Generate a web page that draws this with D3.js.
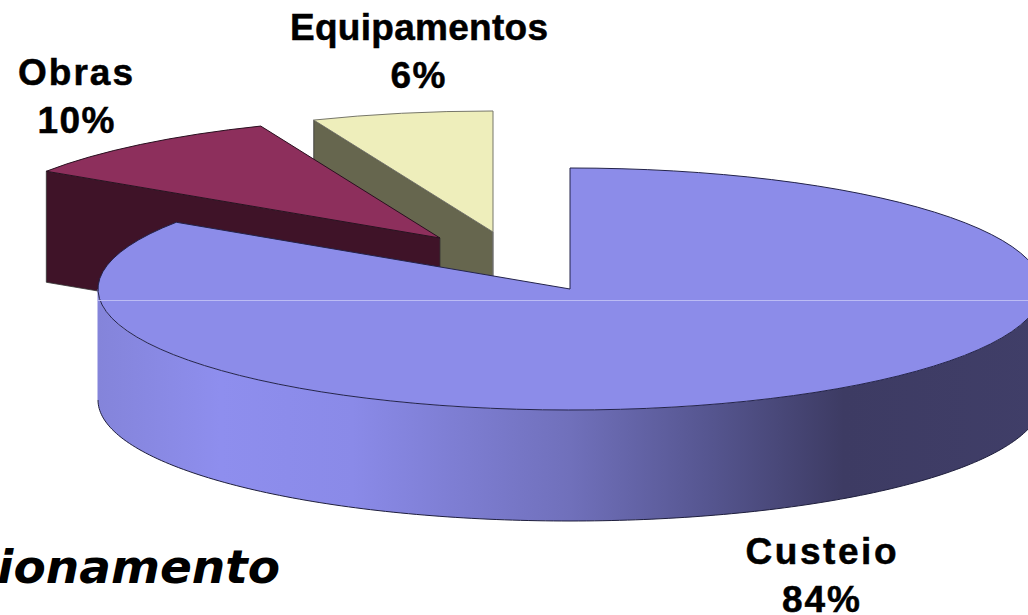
<!DOCTYPE html>
<html><head><meta charset="utf-8">
<script src="https://cdnjs.cloudflare.com/ajax/libs/d3/7.8.5/d3.min.js"></script>
<style>html,body{margin:0;padding:0;background:#fff;overflow:hidden}svg{display:block}</style>
</head><body><svg id="c" width="1028" height="615"></svg>
<script>
const categories = ["Custeio", "Obras", "Equipamentos"];
const values = [84.3, 9.5, 6.2];
const percentLabels = ["84%", "10%", "6%"];
const topColors = ["#8c8ce9", "#8d2f5c", "#eeeebb"];
const faceColors = ["#3f3d66", "#3f1328", "#66664e"];
const centers = [[570, 289], [440, 238], [493, 232]];
const sideStops = [[0, "#8484da"], [0.13, "#8e8eee"], [0.27, "#8a8ae8"], [0.5, "#7070bb"], [0.65, "#55558f"], [0.79, "#3d3b63"], [1, "#403e68"]];
const namePos = [[821, 564, 151], [75.5, 85, 115], [419, 40, 258]];
const percentPos = [[821, 612, 78], [76, 133, 77], [418, 88, 55]];

const rx = 472, ry = 121, depth = 111;
const svg = d3.select("#c");
const defs = svg.append("defs");
const grad = defs.append("linearGradient").attr("id", "side").attr("gradientUnits", "userSpaceOnUse")
  .attr("x1", centers[0][0] - rx).attr("x2", centers[0][0] + rx).attr("y1", 0).attr("y2", 0);
sideStops.forEach(s => grad.append("stop").attr("offset", s[0]).attr("stop-color", s[1]));

const arcs = d3.pie().sort(null).value(d => d)(values);
const arc = d3.arc().innerRadius(0).outerRadius(rx);
const px = (c, a) => c[0] + rx * Math.sin(a);
const py = (c, a) => c[1] - ry * Math.cos(a);
const line = d3.line();

// cut faces of the two exploded slices (back to front)
[2, 1].forEach(i => {
  const c = centers[i], a = arcs[i].startAngle;
  const pts = [[px(c, a), py(c, a)], c, [c[0], c[1] + depth], [px(c, a), py(c, a) + depth]];
  svg.append("path").attr("d", line(pts) + "Z").attr("fill", faceColors[i]).attr("stroke", "#333").attr("stroke-width", 0.8);
  if (i === 2) {
    svg.append("path").attr("d", line([c, [c[0], c[1] + depth]])).attr("stroke", "#888").attr("fill", "none");
  }
  svg.append("path").attr("transform", `translate(${c[0]},${c[1]}) scale(1,${ry / rx})`)
    .attr("d", arc(arcs[i])).attr("fill", topColors[i])
    .attr("stroke", i === 2 ? "#77776a" : "#2a1020").attr("stroke-width", 1).attr("vector-effect", "non-scaling-stroke");
});

// wall of the main slice
const c0 = centers[0];
const wall = d3.range(0, 181).map(d => Math.PI / 2 + d * Math.PI / 180);
const side = d3.area().x(a => px(c0, a)).y0(a => py(c0, a)).y1(a => py(c0, a) + depth);
svg.append("path").attr("d", side(wall)).attr("fill", "url(#side)").attr("stroke", "none");
svg.append("path").attr("d", d3.line().x(a => px(c0, a)).y(a => py(c0, a) + depth)(wall))
  .attr("fill", "none").attr("stroke", "#1e1e3c").attr("stroke-width", 1);
svg.append("path").attr("d", line([[c0[0] - rx, c0[1]], [c0[0] - rx, c0[1] + depth]])).attr("stroke", "#8484da");

// top of the main slice
svg.append("path").attr("transform", `translate(${c0[0]},${c0[1]}) scale(1,${ry / rx})`)
  .attr("d", arc(arcs[0])).attr("fill", topColors[0])
  .attr("stroke", "#23234a").attr("stroke-width", 1).attr("vector-effect", "non-scaling-stroke");

// light seam across the top
svg.append("path").attr("d", line([[c0[0] - rx, 300.5], [1028, 300.5]])).attr("stroke", "#bcbcf4").attr("stroke-width", 1);

// labels
const lab = svg.append("g").attr("font-family", "'Liberation Sans',Arial,sans-serif").attr("font-weight", 700)
  .attr("font-size", 37).attr("fill", "#000").attr("stroke", "#000").attr("stroke-width", 0.5).attr("text-anchor", "middle");
categories.forEach((name, i) => {
  lab.append("text").attr("x", namePos[i][0]).attr("y", namePos[i][1])
    .attr("textLength", namePos[i][2]).attr("lengthAdjust", "spacing").text(name);
  lab.append("text").attr("x", percentPos[i][0]).attr("y", percentPos[i][1])
    .attr("textLength", percentPos[i][2]).attr("lengthAdjust", "spacing").text(percentLabels[i]);
});

svg.append("text").attr("x", 280).attr("y", 583).attr("text-anchor", "end")
  .attr("font-family", "'DejaVu Sans'").attr("font-weight", 700).attr("font-style", "italic")
  .attr("font-size", 47).attr("fill", "#000").text("ionamento");
</script></body></html>
